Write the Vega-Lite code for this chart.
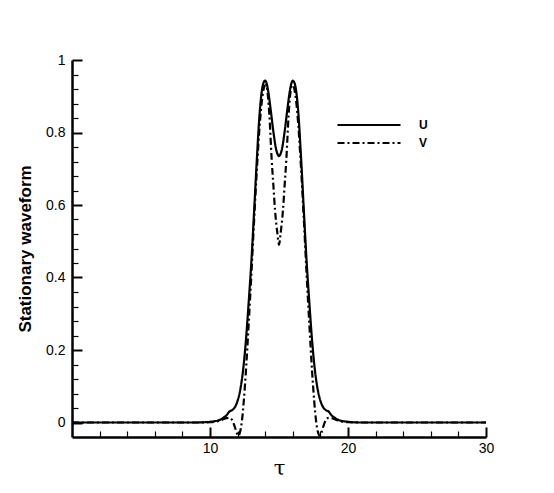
{
  "$schema": "https://vega.github.io/schema/vega-lite/v6.json",
  "width": 414,
  "height": 377,
  "autosize": {"type": "none"},
  "padding": {"left": 72, "top": 60, "right": 68, "bottom": 56},
  "config": {"view": {"stroke": null}, "font": "Liberation Sans", "background": "white"},
  "data": {"values": [
    {"t":0,"s":"U","v":0},{"t":5,"s":"U","v":0},{"t":9,"s":"U","v":0},{"t":9.5,"s":"U","v":0.0005},{"t":10,"s":"U","v":0.002},{"t":10.4,"s":"U","v":0.004},{"t":10.8,"s":"U","v":0.009},{"t":11,"s":"U","v":0.014},{"t":11.2,"s":"U","v":0.02},{"t":11.4,"s":"U","v":0.03},{"t":11.6,"s":"U","v":0.034},{"t":11.8,"s":"U","v":0.042},{"t":12,"s":"U","v":0.06},{"t":12.2,"s":"U","v":0.092},{"t":12.4,"s":"U","v":0.145},{"t":12.6,"s":"U","v":0.225},{"t":12.8,"s":"U","v":0.33},{"t":13,"s":"U","v":0.445},{"t":13.2,"s":"U","v":0.585},{"t":13.4,"s":"U","v":0.73},{"t":13.6,"s":"U","v":0.855},{"t":13.8,"s":"U","v":0.925},{"t":13.9,"s":"U","v":0.939},{"t":14,"s":"U","v":0.943},{"t":14.1,"s":"U","v":0.936},{"t":14.2,"s":"U","v":0.918},{"t":14.4,"s":"U","v":0.862},{"t":14.6,"s":"U","v":0.8},{"t":14.8,"s":"U","v":0.752},{"t":14.9,"s":"U","v":0.74},{"t":15,"s":"U","v":0.735},{"t":15.1,"s":"U","v":0.74},{"t":15.2,"s":"U","v":0.752},{"t":15.4,"s":"U","v":0.8},{"t":15.6,"s":"U","v":0.862},{"t":15.8,"s":"U","v":0.918},{"t":15.9,"s":"U","v":0.936},{"t":16,"s":"U","v":0.943},{"t":16.1,"s":"U","v":0.939},{"t":16.2,"s":"U","v":0.925},{"t":16.4,"s":"U","v":0.855},{"t":16.6,"s":"U","v":0.73},{"t":16.8,"s":"U","v":0.585},{"t":17,"s":"U","v":0.445},{"t":17.2,"s":"U","v":0.33},{"t":17.4,"s":"U","v":0.225},{"t":17.6,"s":"U","v":0.145},{"t":17.8,"s":"U","v":0.092},{"t":18,"s":"U","v":0.06},{"t":18.2,"s":"U","v":0.042},{"t":18.4,"s":"U","v":0.034},{"t":18.6,"s":"U","v":0.03},{"t":18.8,"s":"U","v":0.02},{"t":19,"s":"U","v":0.014},{"t":19.2,"s":"U","v":0.009},{"t":19.6,"s":"U","v":0.004},{"t":20,"s":"U","v":0.002},{"t":20.5,"s":"U","v":0.0005},{"t":21,"s":"U","v":0},{"t":25,"s":"U","v":0},{"t":30,"s":"U","v":0},
    {"t":0,"s":"V","v":0},{"t":5,"s":"V","v":0},{"t":9,"s":"V","v":0},{"t":10,"s":"V","v":0.001},{"t":10.5,"s":"V","v":0.003},{"t":10.9,"s":"V","v":0.008},{"t":11.2,"s":"V","v":0.012},{"t":11.4,"s":"V","v":0.013},{"t":11.6,"s":"V","v":0.007},{"t":11.8,"s":"V","v":-0.012},{"t":11.95,"s":"V","v":-0.03},{"t":12.05,"s":"V","v":-0.037},{"t":12.15,"s":"V","v":-0.03},{"t":12.3,"s":"V","v":0},{"t":12.45,"s":"V","v":0.06},{"t":12.6,"s":"V","v":0.14},{"t":12.8,"s":"V","v":0.27},{"t":13,"s":"V","v":0.41},{"t":13.2,"s":"V","v":0.56},{"t":13.4,"s":"V","v":0.7},{"t":13.6,"s":"V","v":0.82},{"t":13.8,"s":"V","v":0.9},{"t":13.95,"s":"V","v":0.928},{"t":14.05,"s":"V","v":0.931},{"t":14.2,"s":"V","v":0.9},{"t":14.3,"s":"V","v":0.85},{"t":14.47,"s":"V","v":0.725},{"t":14.6,"s":"V","v":0.65},{"t":14.71,"s":"V","v":0.587},{"t":14.88,"s":"V","v":0.523},{"t":15,"s":"V","v":0.49},{"t":15.12,"s":"V","v":0.523},{"t":15.29,"s":"V","v":0.587},{"t":15.4,"s":"V","v":0.65},{"t":15.53,"s":"V","v":0.725},{"t":15.7,"s":"V","v":0.85},{"t":15.8,"s":"V","v":0.9},{"t":15.95,"s":"V","v":0.931},{"t":16.05,"s":"V","v":0.928},{"t":16.2,"s":"V","v":0.9},{"t":16.4,"s":"V","v":0.82},{"t":16.6,"s":"V","v":0.7},{"t":16.8,"s":"V","v":0.56},{"t":17,"s":"V","v":0.41},{"t":17.2,"s":"V","v":0.27},{"t":17.4,"s":"V","v":0.14},{"t":17.55,"s":"V","v":0.06},{"t":17.7,"s":"V","v":0},{"t":17.85,"s":"V","v":-0.03},{"t":17.95,"s":"V","v":-0.037},{"t":18.05,"s":"V","v":-0.03},{"t":18.2,"s":"V","v":-0.012},{"t":18.4,"s":"V","v":0.007},{"t":18.6,"s":"V","v":0.013},{"t":18.8,"s":"V","v":0.012},{"t":19.1,"s":"V","v":0.008},{"t":19.5,"s":"V","v":0.003},{"t":20,"s":"V","v":0.001},{"t":21,"s":"V","v":0},{"t":25,"s":"V","v":0},{"t":30,"s":"V","v":0}
  ]},
  "layer": [
    {
      "mark": {"type": "line", "interpolate": "monotone", "color": "black", "strokeWidth": 2.2, "clip": true},
      "encoding": {
        "x": {"field": "t", "type": "quantitative", "scale": {"domain": [0, 30], "nice": false, "zero": false},
          "axis": {"orient": "bottom", "values": [10, 20, 30], "format": "d", "grid": false, "domain": true, "domainColor": "black", "domainWidth": 2.5,
            "ticks": true, "tickSize": -10, "tickWidth": 2, "tickColor": "black", "labelFontSize": 14, "labelColor": "black", "labelPadding": 14, "labelFlush": false, "labelOverlap": false,
            "title": "τ", "titleFont": "DejaVu Serif", "titleFontSize": 21, "titleFontWeight": "normal", "titleColor": "black", "titlePadding": 2}},
        "y": {"field": "v", "type": "quantitative", "scale": {"domain": [-0.04, 1], "nice": false, "zero": false},
          "axis": {"orient": "left", "values": [0, 0.2, 0.4, 0.6, 0.8, 1], "format": "~g", "grid": false, "domain": true, "domainColor": "black", "domainWidth": 2.5,
            "ticks": true, "tickSize": -10, "tickWidth": 2, "tickColor": "black", "labelFontSize": 14, "labelColor": "black", "labelPadding": 17, "labelFlush": false, "labelOverlap": false,
            "title": "Stationary waveform", "titleFont": "Liberation Sans", "titleFontSize": 17, "titleFontWeight": "bold", "titleColor": "black", "titlePadding": 11}},
        "strokeDash": {"field": "s", "type": "nominal", "scale": {"domain": ["U", "V"], "range": [[1, 0], [7, 3, 2, 3]]},
          "legend": {"orient": "none", "legendX": 285, "legendY": 53, "title": null, "symbolType": "M-3,0H3", "symbolSize": 441, "symbolStrokeWidth": 2.2,
            "symbolStrokeColor": "black", "symbolFillColor": "transparent", "labelFont": "Liberation Sans", "labelFontSize": 12, "labelFontWeight": "bold", "labelColor": "black", "labelOffset": 38, "rowPadding": 0, "padding": 0}}
      }
    },
    {
      "mark": {"type": "point", "opacity": 0},
      "encoding": {
        "x": {"field": "t", "type": "quantitative",
          "axis": {"orient": "bottom", "values": [2, 4, 6, 8, 12, 14, 16, 18, 22, 24, 26, 28], "grid": false, "domain": false, "labels": false, "ticks": true, "tickSize": -6, "tickWidth": 1.2, "tickColor": "black", "title": null}},
        "y": {"field": "v", "type": "quantitative",
          "axis": {"orient": "left", "values": [0.04, 0.08, 0.12, 0.16, 0.24, 0.28, 0.32, 0.36, 0.44, 0.48, 0.52, 0.56, 0.64, 0.68, 0.72, 0.76, 0.84, 0.88, 0.92, 0.96], "grid": false, "domain": false, "labels": false, "ticks": true, "tickSize": -6, "tickWidth": 1.2, "tickColor": "black", "title": null}}
      }
    }
  ],
  "resolve": {"axis": {"x": "independent", "y": "independent"}}
}
